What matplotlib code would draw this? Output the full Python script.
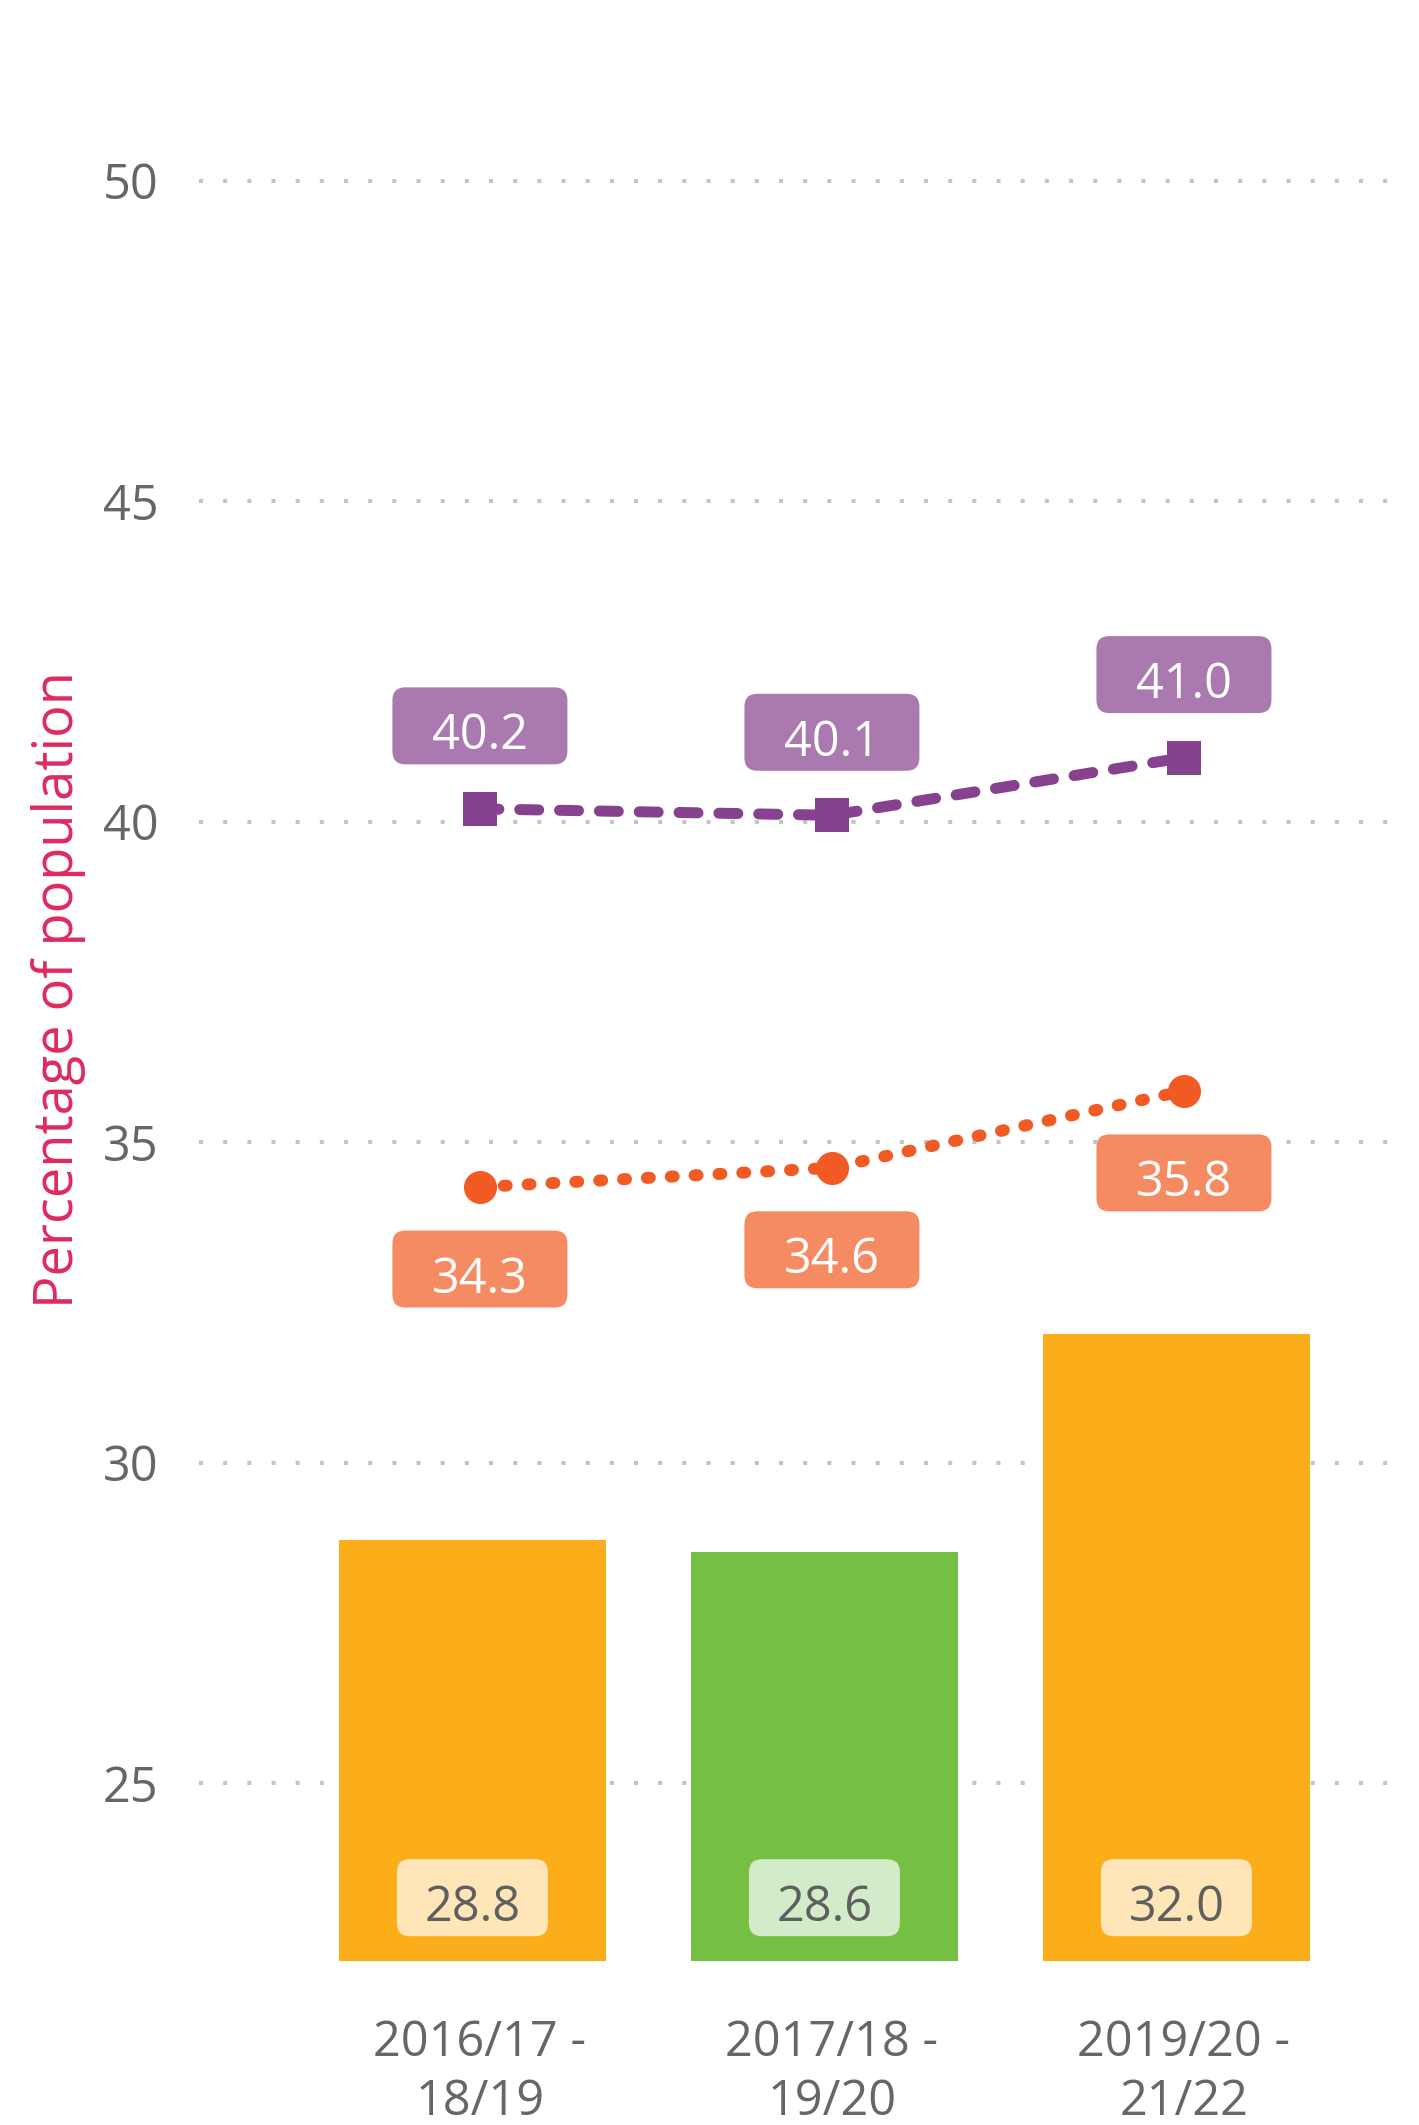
import numpy as np
import matplotlib
matplotlib.use("Agg")
import matplotlib.pyplot as plt
from matplotlib import font_manager, transforms
from matplotlib.patches import FancyBboxPatch

# ---- data ----
periods = ["2016/17 -\n18/19", "2017/18 -\n19/20", "2019/20 -\n21/22"]
bar_values = [28.8, 28.6, 32.0]
purple_values = [40.2, 40.1, 41.0]
orange_values = [34.3, 34.6, 35.8]
y_ticks = [25, 30, 35, 40, 45, 50]
y_label = "Percentage of population"

# ---- styling ----
bar_colors = ["#fbae19", "#75bf43", "#fbae19"]
bar_label_fill = ["#fee6b8", "#d4ebca", "#fee6b8"]
purple = "#86418f"
purple_box = "#a979b0"
orange = "#f15a22"
orange_box = "#f58b63"
text_grey = "#666666"
value_grey = "#5f5f5f"

available = {f.name for f in font_manager.fontManager.ttflist}
family = next(f for f in ["Open Sans", "DejaVu Sans"] if f in available)
plt.rcParams["font.family"] = family

W, H, DPI = 1419, 2125, 100
fig = plt.figure(figsize=(W / DPI, H / DPI), dpi=DPI)
left_px, right_px, bottom_px, top_px = 199, 1405, 1960.7, 116.6
ax = fig.add_axes([left_px / W, 1 - bottom_px / H,
                   (right_px - left_px) / W, (bottom_px - top_px) / H])

x = np.arange(len(periods))
ax.set_xlim(-0.798, 2.628)
ax.set_ylim(22.23, 51.0)

# bars (slightly left of the category centre)
bar_offset = -0.0213
bar_width = 0.759
ax.bar(x + bar_offset, bar_values, width=bar_width, color=bar_colors, zorder=1)

# dotted horizontal grid
ax.set_yticks(y_ticks)
ax.yaxis.grid(True, linestyle=(0, (1, 5)), linewidth=2.9, color="#c4c4c4")
ax.xaxis.grid(False)
ax.set_axisbelow(True)
for s in ax.spines.values():
    s.set_visible(False)

ax.set_xticks(x, periods)
ax.tick_params(axis="x", length=0, pad=41.5, labelsize=35, labelcolor=text_grey)
ax.tick_params(axis="y", length=0, pad=29, labelsize=35, labelcolor=text_grey)
for lbl in ax.get_xticklabels():
    lbl.set_linespacing(1.27)

# lines
ax.plot(x, purple_values, color=purple, lw=7.9, linestyle=(0, (1.73, 1.9)),
        dash_capstyle="round", marker="s", markersize=24.5,
        markeredgewidth=0, zorder=4)
ax.plot(x, orange_values, color=orange, lw=8.6, linestyle=(0, (0.25, 1.75)),
        dash_capstyle="round", marker="o", markersize=23.8,
        markeredgewidth=0, zorder=4)

PX = 72.0 / DPI  # points per pixel


def value_box(xv, yv, txt, dy_px, w_px, fill, color, ytrans):
    """Rounded label box of fixed pixel size centred dy_px above (xv, yv)."""
    trans = fig.dpi_scale_trans + transforms.ScaledTranslation(xv, yv, ytrans)
    w, h = w_px / DPI, 77 / DPI
    box = FancyBboxPatch((-w / 2, dy_px / DPI - h / 2), w, h,
                         boxstyle="round,pad=0,rounding_size=0.13",
                         transform=trans, facecolor=fill, edgecolor="none",
                         zorder=3, clip_on=False)
    ax.add_patch(box)
    ax.annotate(txt, xy=(xv, yv), xycoords=ytrans,
                xytext=(0, (dy_px - 23.5) * PX), textcoords="offset points",
                ha="center", va="baseline", fontsize=35, color=color, zorder=5)


for xi, v in zip(x, purple_values):
    value_box(xi, v, f"{v:.1f}", 83, 175, purple_box, "white", ax.transData)
for xi, v in zip(x, orange_values):
    value_box(xi, v, f"{v:.1f}", -82, 175, orange_box, "white", ax.transData)
for xi, v, fc in zip(x, bar_values, bar_label_fill):
    value_box(xi + bar_offset, 0, f"{v:.1f}", 63, 151, fc, value_grey,
              ax.get_xaxis_transform())

fig.text(58.5 / W, 1 - 990 / H, y_label, rotation=90, ha="center",
         va="center", fontsize=39, color="#df2a5f")

fig.savefig("out.png", dpi=DPI)
